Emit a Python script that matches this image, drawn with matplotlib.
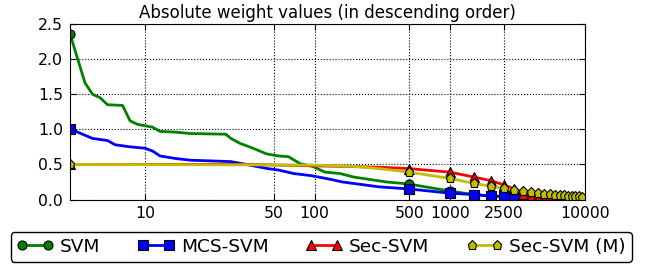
import numpy as np
import matplotlib
matplotlib.use("Agg")
import matplotlib.pyplot as plt

# feature index (sorted by |w|, descending) and absolute weight values
svm_x = [0, 2, 3, 4, 5, 7, 8, 9, 11, 12, 14, 16, 22, 24, 28, 35, 44, 54, 64, 78, 97, 119, 154, 194, 340,
         500, 1000, 1500, 2000, 2500, 3000, 3500, 4000, 4500, 5000, 5500, 6000, 6500, 7000, 7500, 8000,
         8500, 9000, 9500, 9999]
svm_y = [2.36, 1.66, 1.50, 1.45, 1.35, 1.34, 1.12, 1.07, 1.03, 0.97, 0.96, 0.94, 0.93, 0.87, 0.80, 0.73,
         0.65, 0.62, 0.61, 0.51, 0.47, 0.39, 0.37, 0.32, 0.25,
         0.22, 0.12, 0.07, 0.05, 0.04, 0.02, 0.01, 0.0, 0.0, 0.0, 0.0, 0.0, 0.0, 0.0, 0.0, 0.0,
         0.0, 0.0, 0.0, 0.0]

mcs_x = [0, 1, 3, 5, 6, 8, 10, 11, 12, 14, 16, 24, 31, 45, 54, 70, 94, 129, 160, 300,
         500, 1000, 1500, 2000, 2500, 3000, 3500, 4000, 4500, 5000, 5500, 6000, 6500, 7000, 7500, 8000,
         8500, 9000, 9500, 9999]
mcs_y = [1.01, 0.96, 0.87, 0.84, 0.78, 0.75, 0.73, 0.69, 0.62, 0.585, 0.56, 0.54, 0.50, 0.44, 0.42, 0.37,
         0.34, 0.29, 0.25, 0.18,
         0.15, 0.09, 0.07, 0.05, 0.045, 0.035, 0.025, 0.015, 0.005, 0.0, 0.0, 0.0, 0.0, 0.0, 0.0, 0.0,
         0.0, 0.0, 0.0, 0.0]

sec_x = [0, 30, 100, 300,
         500, 1000, 1500, 2000, 2500, 3000, 3500, 4000, 4500, 5000, 5500, 6000, 6500, 7000, 7500, 8000,
         8500, 9000, 9500, 9999]
sec_y = [0.5, 0.5, 0.48, 0.46,
         0.44, 0.39, 0.32, 0.27, 0.21, 0.15, 0.08, 0.03, 0.01, 0.0, 0.0, 0.0, 0.0, 0.0, 0.0, 0.0,
         0.0, 0.0, 0.0, 0.0]

secm_x = [0, 100, 200, 300,
          500, 1000, 1500, 2000, 2500, 3000, 3500, 4000, 4500, 5000, 5500, 6000, 6500, 7000, 7500, 8000,
          8500, 9000, 9500, 9999]
secm_y = [0.5, 0.49, 0.47, 0.44,
          0.39, 0.30, 0.23, 0.19, 0.157, 0.133, 0.12, 0.108, 0.095, 0.085, 0.077, 0.07, 0.065, 0.06, 0.056,
          0.052, 0.048, 0.045, 0.042, 0.04]

labels = ["SVM", "MCS-SVM", "Sec-SVM", "Sec-SVM (M)"]
colors = ["g", "b", "r", "y"]
markers = ["o", "s", "^", "p"]
xticks = [10, 50, 100, 500, 1000, 2500, 10000]
MARK_STEP = 500

plt.rcParams["font.family"] = "DejaVu Sans"

fig = plt.figure(figsize=(6.51, 2.65), dpi=100)
ax = fig.add_axes([70 / 651, 1 - 199.5 / 265, 515 / 651, 175.5 / 265])

series = [(svm_x, svm_y), (mcs_x, mcs_y), (sec_x, sec_y), (secm_x, secm_y)]
for (xs, ys), lab, c, m in zip(series, labels, colors, markers):
    xs = np.asarray(xs)
    every = list(np.where(xs % MARK_STEP == 0)[0])
    ax.plot(xs, ys, color=c, lw=2, marker=m, markersize=6.5, markeredgecolor="k",
            markeredgewidth=0.8, markevery=every, label=lab)

ax.set_xscale("symlog", linthresh=20, linscale=1)
ax.set_xlim(0, 10000)
ax.set_ylim(0, 2.5)
ax.set_xticks(xticks)
ax.set_xticklabels([str(t) for t in xticks])
ax.xaxis.set_minor_locator(matplotlib.ticker.NullLocator())
ax.set_yticks(np.arange(0, 2.51, 0.5))
ax.set_yticklabels(["%.1f" % v for v in np.arange(0, 2.51, 0.5)])
ax.tick_params(direction="in", top=True, right=True, length=4, labelsize=11.3, pad=5)
ax.grid(True, linestyle=":", color="k", linewidth=0.8)
ax.set_title("Absolute weight values (in descending order)", fontsize=12, pad=4)

leg = ax.legend(loc="upper center", bbox_to_anchor=(0.488, -0.185), ncol=4, numpoints=2,
                fontsize=13.3, fancybox=True, handlelength=2.0, columnspacing=2.0,
                handletextpad=0.35, borderpad=0.32, borderaxespad=0, framealpha=1)
leg.get_frame().set_edgecolor("k")

fig.savefig("out.png", dpi=100)
